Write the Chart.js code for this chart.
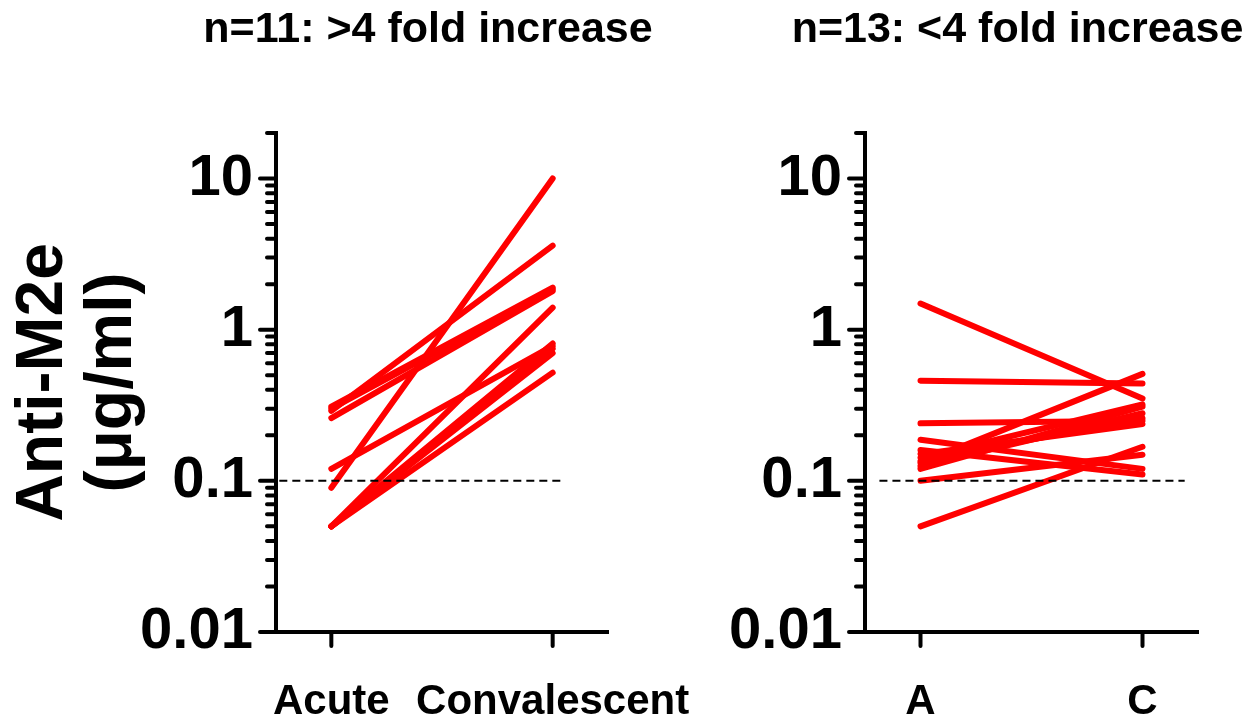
<!DOCTYPE html>
<html>
<head>
<meta charset="utf-8">
<script src="https://cdn.jsdelivr.net/npm/chart.js@4.4.1/dist/chart.umd.min.js"></script>
<style>
  html, body { margin: 0; padding: 0; background: #fff; }
  #wrap { position: relative; width: 1251px; height: 714px; }
  canvas { position: absolute; left: 0; top: 0; }
</style>
</head>
<body>
<div id="wrap">
  <canvas id="leftPanel" width="1251" height="714"></canvas>
  <canvas id="rightPanel" width="1251" height="714"></canvas>
</div>
<script>
// ---- data ----
const titleLeft = 'n=11: >4 fold increase';
const titleRight = 'n=13: <4 fold increase';
const yTitle = ['Anti-M2e', '(μg/ml)'];

const catsLeft = ['Acute', 'Convalescent'];
const catsRight = ['A', 'C'];

// >4 fold group (acute -> convalescent), ug/ml
const acuteHigh = [0.31, 0.30, 0.29, 0.26, 0.12, 0.09, 0.05, 0.05, 0.05, 0.05, 0.05];
const convHigh  = [1.9, 1.85, 3.6, 1.8, 0.78, 10, 1.4, 0.81, 0.75, 0.70, 0.52];

// <4 fold group (A -> C), ug/ml
const acuteLow = [1.49, 0.46, 0.24, 0.187, 0.16, 0.10, 0.05, 0.131, 0.142, 0.12, 0.135, 0.15, 0.125];
const convLow  = [0.35, 0.44, 0.25, 0.12, 0.11, 0.149, 0.168, 0.51, 0.32, 0.31, 0.26, 0.238, 0.28];

const yTickValues = [0.01, 0.1, 1, 10];
const yTickLabels = ['0.01', '0.1', '1', '10'];
const yMin = 0.01;
const yMax = 20;
const cutoff = 0.1;

const FONT = '"Liberation Sans", Arial, sans-serif';

// minor/major tick marks + panel title
const panelDecor = {
  id: 'panelDecor',
  afterDraw(chart, args, opts) {
    const {ctx, chartArea} = chart;
    const ys = chart.scales.y, xs = chart.scales.x;
    ctx.save();
    ctx.strokeStyle = '#000';
    ctx.lineWidth = 4;
    ctx.lineCap = 'round';
    ctx.beginPath();
    yTickValues.forEach(dec => {
      for (let k = 1; k <= 9; k++) {
        const v = dec * k;
        if (v > yMax + 1e-9) break;
        const py = ys.getPixelForValue(v);
        const len = k === 1 ? 16 : 9;
        ctx.moveTo(chartArea.left - len, py);
        ctx.lineTo(chartArea.left, py);
      }
    });
    [0, 1].forEach(v => {
      const px = xs.getPixelForValue(v);
      ctx.moveTo(px, chartArea.bottom);
      ctx.lineTo(px, chartArea.bottom + 14);
    });
    ctx.stroke();

    ctx.fillStyle = '#000';
    ctx.font = 'bold 43px ' + FONT;
    ctx.textAlign = 'center';
    ctx.textBaseline = 'alphabetic';
    ctx.fillText(opts.text, (chartArea.left + chartArea.right) / 2 - 14, 42);
    ctx.restore();
  }
};

function makePanel(id, cats, acute, conv, title, showYTitle, axisX, padRight, cutX) {
  const datasets = [{
    data: [{x: cutX[0], y: cutoff}, {x: cutX[1], y: cutoff}],
    borderColor: '#000',
    borderWidth: 2,
    borderDash: [8, 5],
    pointRadius: 0,
    order: 0
  }];
  acute.forEach((a, i) => {
    datasets.push({
      data: [{x: 0, y: a}, {x: 1, y: conv[i]}],
      borderColor: '#ff0000',
      borderWidth: 6,
      borderCapStyle: 'round',
      pointRadius: 0,
      order: 1
    });
  });

  return new Chart(document.getElementById(id), {
    type: 'line',
    data: {datasets},
    options: {
      responsive: false,
      animation: false,
      layout: {padding: {left: 0, right: padRight, top: 133, bottom: 0}},
      plugins: {
        legend: {display: false},
        tooltip: {enabled: false},
        panelDecor: {text: title}
      },
      scales: {
        x: {
          type: 'linear',
          min: -0.25,
          max: 1.25,
          afterBuildTicks: s => { s.ticks = [{value: 0}, {value: 1}]; },
          afterFit: s => { s.height = 82; },
          grid: {display: false, drawTicks: false},
          border: {display: true, color: '#000', width: 4},
          ticks: {
            padding: 45,
            color: '#000',
            font: {family: FONT, size: 42, weight: 'bold'},
            callback: v => cats[v]
          }
        },
        y: {
          type: 'logarithmic',
          min: yMin,
          max: yMax,
          afterBuildTicks: s => { s.ticks = yTickValues.map(v => ({value: v})); },
          afterFit: s => { s.width = axisX; },
          grid: {display: false, drawTicks: false},
          border: {display: true, color: '#000', width: 4},
          ticks: {
            padding: 23,
            color: '#000',
            font: {family: FONT, size: 58, weight: 'bold'},
            callback: v => yTickLabels[yTickValues.indexOf(v)]
          },
          title: {
            display: showYTitle,
            text: yTitle,
            color: '#000',
            font: {family: FONT, size: 66, weight: 'bold', lineHeight: 1.05},
            padding: {top: 9, bottom: 0}
          }
        }
      }
    },
    plugins: [panelDecor]
  });
}

makePanel('leftPanel', catsLeft, acuteHigh, convHigh, titleLeft, true, 276, 1251 - 608, [-0.235, 1.045]);
makePanel('rightPanel', catsRight, acuteLow, convLow, titleRight, false, 865, 1251 - 1198, [-0.185, 1.19]);
</script>
</body>
</html>
